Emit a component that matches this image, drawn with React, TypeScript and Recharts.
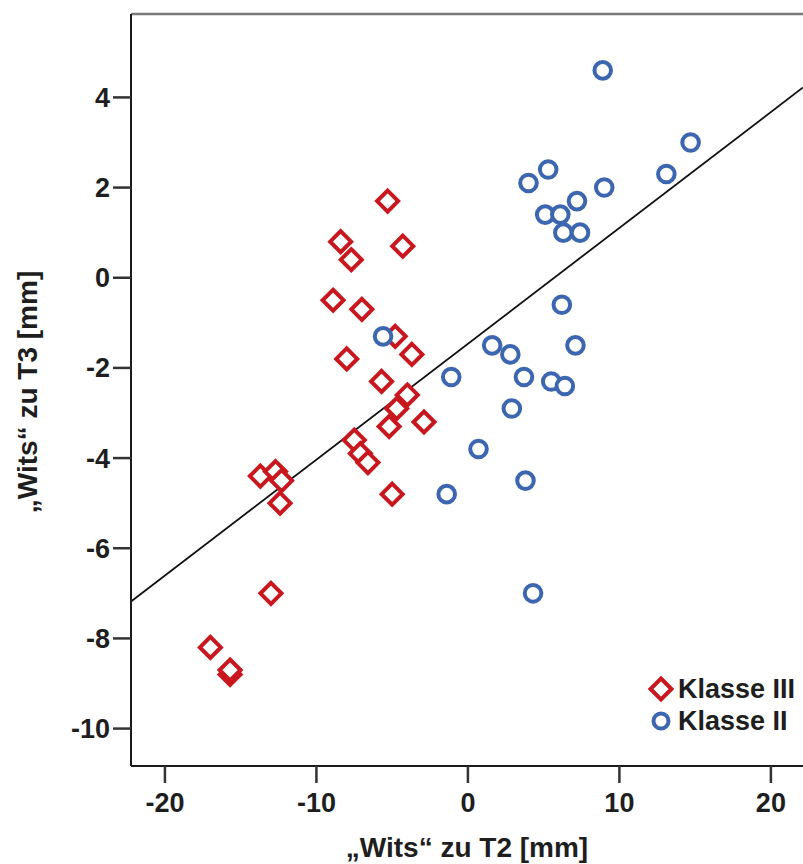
import React from 'react';
import { ScatterChart, Scatter, XAxis, YAxis, ReferenceLine, Legend } from 'recharts';

// Klasse III (red diamonds)
const klasseIIIx = [-5.3, -8.4, -7.7, -4.3, -8.9, -7.0, -4.8, -3.7, -8.0, -5.7, -4.0, -4.7, -2.9, -5.2, -7.5, -7.1, -6.6, -5.0, -13.7, -12.7, -12.3, -12.4, -13.0, -17.0, -15.7, -15.7];
const klasseIIIy = [1.7, 0.8, 0.4, 0.7, -0.5, -0.7, -1.3, -1.7, -1.8, -2.3, -2.6, -2.9, -3.2, -3.3, -3.6, -3.9, -4.1, -4.8, -4.4, -4.3, -4.5, -5.0, -7.0, -8.2, -8.8, -8.7];

// Klasse II (blue circles)
const klasseIIx = [8.9, 14.7, 13.1, 5.3, 4.0, 9.0, 7.2, 5.1, 6.1, 6.3, 7.4, 6.2, 7.1, 1.6, 2.8, -1.1, 3.7, 5.5, 6.4, 2.9, 0.7, 3.8, -1.4, 4.3, -5.6];
const klasseIIy = [4.6, 3.0, 2.3, 2.4, 2.1, 2.0, 1.7, 1.4, 1.4, 1.0, 1.0, -0.6, -1.5, -1.5, -1.7, -2.2, -2.2, -2.3, -2.4, -2.9, -3.8, -4.5, -4.8, -7.0, -1.3];

// regression line end points
const fitX = [-22.24, 22.12];
const fitY = [-7.18, 4.22];

const xDomain = [-22.24, 22.12];
const yDomain = [-10.83, 5.85];
const xTicks = [-20, -10, 0, 10, 20];
const yTicks = [-10, -8, -6, -4, -2, 0, 2, 4];

const RED = '#C8171E';
const BLUE = '#3D66B0';
const TEXT = '#1e1e1e';
const FONT = '"Liberation Sans", Arial, sans-serif';

const dataIII = klasseIIIx.map((x, i) => ({ x, y: klasseIIIy[i] }));
const dataII = klasseIIx.map((x, i) => ({ x, y: klasseIIy[i] }));

const Diamond = (props: any) => {
  const { cx, cy } = props;
  const r = 10.5;
  return (
    <path
      d={`M${cx},${cy - r}L${cx + r},${cy}L${cx},${cy + r}L${cx - r},${cy}Z`}
      fill="#fff"
      stroke={RED}
      strokeWidth={4}
    />
  );
};

const Ring = (props: any) => {
  const { cx, cy } = props;
  return <circle cx={cx} cy={cy} r={8.3} fill="#fff" stroke={BLUE} strokeWidth={4} />;
};

const tickStyle = { fontFamily: FONT, fontWeight: 'bold', fontSize: 27, fill: TEXT };
const titleStyle = { fontFamily: FONT, fontWeight: 'bold', fontSize: 28, fill: TEXT };

const XTitle = (props: any) => {
  const { viewBox } = props;
  const cx = viewBox.x + viewBox.width / 2;
  return (
    <text x={cx} y={857} textAnchor="middle" style={titleStyle}>
      „Wits“ zu T2 [mm]
    </text>
  );
};

const YTitle = (props: any) => {
  const { viewBox } = props;
  const cx = 37;
  const cy = viewBox.y + viewBox.height / 2 + 2;
  return (
    <text x={cx} y={cy} transform={`rotate(-90 ${cx} ${cy})`} textAnchor="middle" style={titleStyle}>
      „Wits“ zu T3 [mm]
    </text>
  );
};

const legendItems = [
  { name: 'Klasse III', shape: 'diamond' },
  { name: 'Klasse II', shape: 'circle' },
];

const renderLegend = () => (
  <div style={{ fontFamily: FONT, fontWeight: 'bold', fontSize: 27, color: TEXT }}>
    {legendItems.map(item => (
      <div key={item.name} style={{ display: 'flex', alignItems: 'center', height: 32 }}>
        <svg width={28} height={28}>
          {item.shape === 'diamond' ? (
            <path d="M14,3.5L24.5,14L14,24.5L3.5,14Z" fill="#fff" stroke={RED} strokeWidth={4} />
          ) : (
            <circle cx={14} cy={14} r={7.5} fill="#fff" stroke={BLUE} strokeWidth={4} />
          )}
        </svg>
        <span style={{ marginLeft: 3, lineHeight: '32px', whiteSpace: 'nowrap' }}>{item.name}</span>
      </div>
    ))}
  </div>
);

export default function App() {
  return (
    <div>
      <style>{'body{margin:0;background:#fff}'}</style>
      <ScatterChart width={803} height={864} margin={{ top: 14, right: 0, bottom: 0, left: 0 }}>
        <XAxis
          type="number"
          dataKey="x"
          domain={xDomain}
          ticks={xTicks}
          allowDataOverflow
          height={98}
          tickSize={17}
          tickMargin={10}
          tick={tickStyle}
          axisLine={{ stroke: '#1a1a1a', strokeWidth: 2 }}
          tickLine={{ stroke: '#333', strokeWidth: 2.5 }}
          label={{ content: XTitle }}
        />
        <YAxis
          type="number"
          dataKey="y"
          domain={yDomain}
          ticks={yTicks}
          allowDataOverflow
          width={131}
          tickSize={18}
          tickMargin={3}
          tick={tickStyle}
          axisLine={{ stroke: '#1a1a1a', strokeWidth: 2 }}
          tickLine={{ stroke: '#333', strokeWidth: 2.5 }}
          label={{ content: YTitle }}
        />
        <ReferenceLine y={yDomain[1]} stroke="#7a7a7a" strokeWidth={2.5} />
        <Scatter name="Klasse III" data={dataIII} shape={Diamond} isAnimationActive={false} />
        <Scatter name="Klasse II" data={dataII} shape={Ring} isAnimationActive={false} />
        <ReferenceLine
          segment={[{ x: fitX[0], y: fitY[0] }, { x: fitX[1], y: fitY[1] }]}
          stroke="#111"
          strokeWidth={1.8}
        />
        <Legend
          layout="vertical"
          align="center"
          verticalAlign="middle"
          content={renderLegend}
          wrapperStyle={{ left: 647, top: 673, width: 160 }}
        />
      </ScatterChart>
    </div>
  );
}
